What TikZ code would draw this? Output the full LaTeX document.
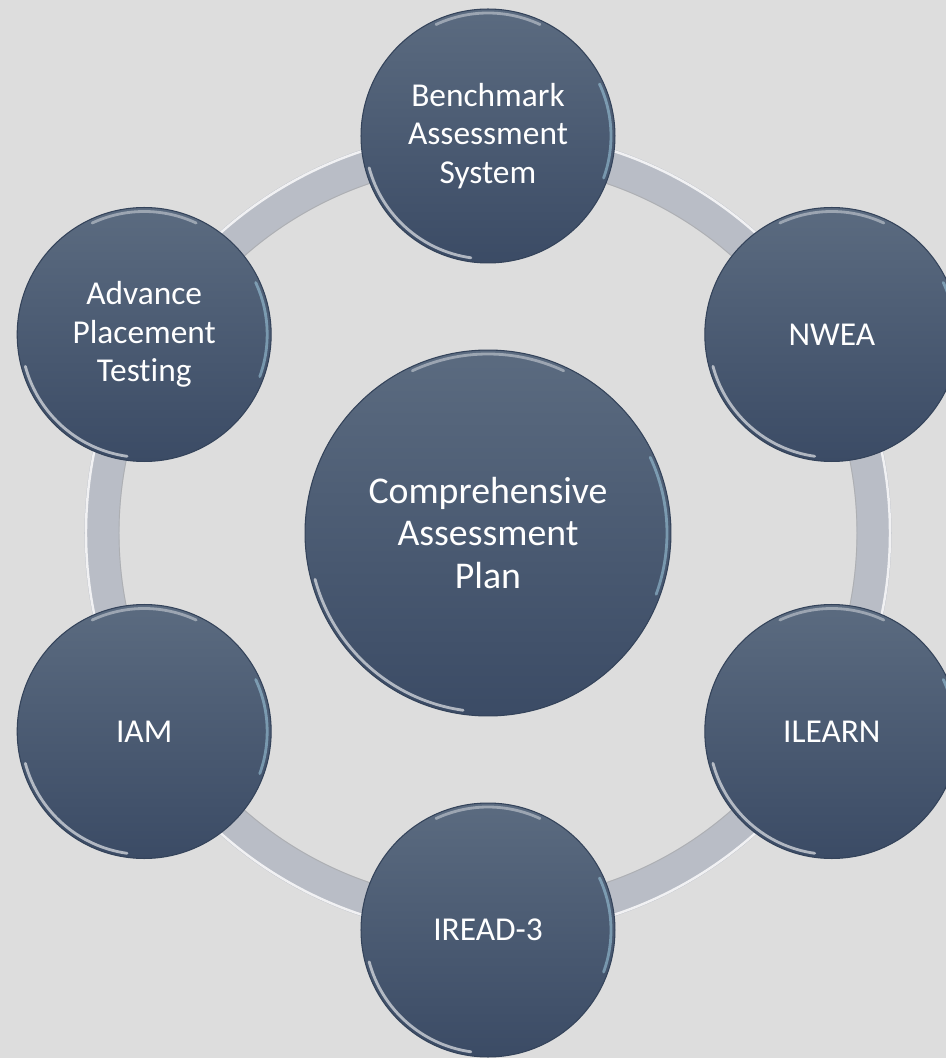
\documentclass[tikz,border=0pt]{standalone}
\usepackage{fontspec}
\setmainfont{Carlito}[Ligatures=NoCommon]
\definecolor{sfondo}{HTML}{DDDDDD}
\definecolor{anello}{HTML}{B9BDC6}
\definecolor{bluAlto}{HTML}{5B6B80}
\definecolor{bluBasso}{HTML}{3B4B65}
\definecolor{bordo}{HTML}{34435A}
\tikzset{
    bolla/.style={circle, draw=bordo, line width=0.6pt, top color=bluAlto, bottom color=bluBasso,
        text=white, align=center, inner sep=0pt},
    piccola/.style={bolla, minimum size=5.08cm, font=\fontsize{19}{22}\selectfont},
    grande/.style={bolla, minimum size=7.32cm, font=\fontsize{21.5}{24.3}\selectfont},
    riflesso/.style={white, line width=1.6pt, opacity=0.6, line cap=round}
}
\begin{document}
\begin{tikzpicture}[x=0.02cm, y=0.02cm]
    % Sfondo
    \useasboundingbox (-488,-525) rectangle (458,533);
    \fill[sfondo] (-488,-525) rectangle (458,533);

    % Anello grigio
    \coordinate (centro) at (0,0);
    \draw[anello, line width=35*0.02cm] (centro) circle[radius=386];
    \draw[white, line width=1.4pt, opacity=0.8] (centro) circle[radius=402];
    \draw[gray!70, line width=0.5pt, opacity=0.6] (centro) circle[radius=369];

    % Cerchio centrale
    \node[grande] (piano) at (centro) {Comprehensive\\Assessment\\Plan};

    % Cerchi esterni
    \node[piccola] (bas) at (90:397) {Benchmark\\Assessment\\System};
    \node[piccola] (nwea) at (30:397) {NWEA};
    \node[piccola] (ilearn) at (-30:397) {ILEARN};
    \node[piccola] (iread) at (-90:397) {IREAD-3};
    \node[piccola] (iam) at (-150:397) {IAM};
    \node[piccola] (ap) at (150:397) {Advance\\Placement\\Testing};

    % Riflessi sul bordo
    \foreach \n/\r in {bas/123, nwea/123, ilearn/123, iread/123, iam/123, ap/123, piano/179} {
        \draw[riflesso] (\n.center) ++(195:\r) arc[start angle=195, end angle=262, radius=\r];
        \draw[riflesso, opacity=0.4] (\n.center) ++(65:\r) arc[start angle=65, end angle=115, radius=\r];
        \draw[riflesso, cyan!30, opacity=0.45] (\n.center) ++(-20:\r) arc[start angle=-20, end angle=25, radius=\r];
    }
\end{tikzpicture}
\end{document}
